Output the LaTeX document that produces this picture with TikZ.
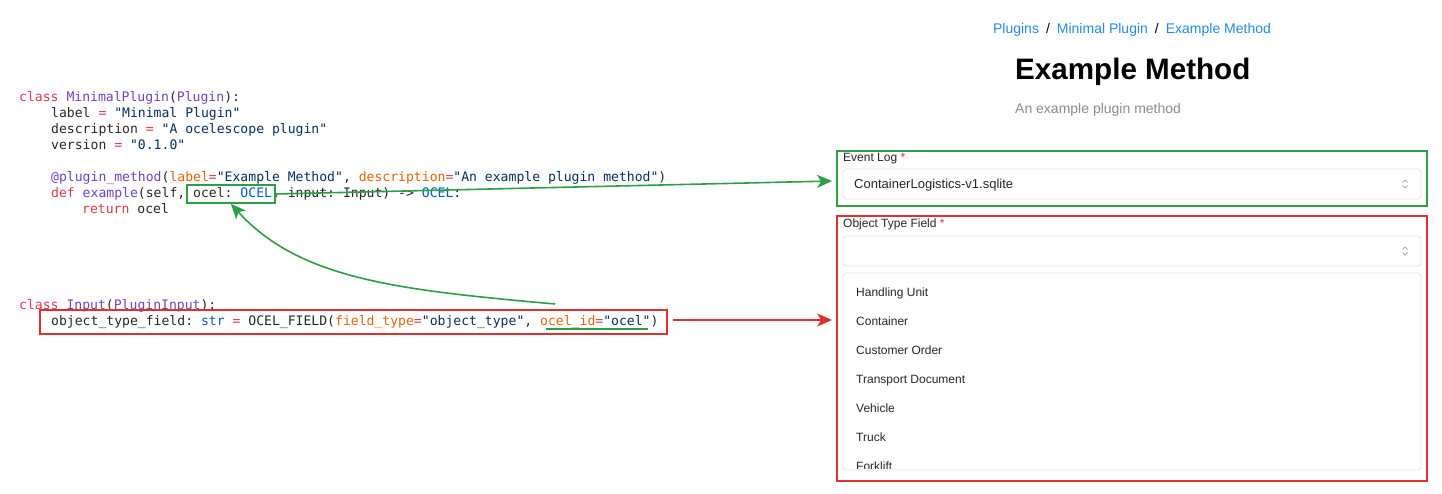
\documentclass[tikz,border=0pt]{standalone}
\usepackage{fontspec}
\setmainfont{Liberation Sans}
\setmonofont{DejaVu Sans Mono}
\usetikzlibrary{arrows.meta}
\definecolor{kwred}{HTML}{D73A49}
\definecolor{fnpurple}{HTML}{6F42C1}
\definecolor{strnavy}{HTML}{032F62}
\definecolor{parorange}{HTML}{E36209}
\definecolor{tyblue}{HTML}{005CC5}
\definecolor{boxgreen}{HTML}{2E9E45}
\definecolor{boxred}{HTML}{E03131}
\definecolor{linkblue}{HTML}{228BE6}
\definecolor{fieldgray}{HTML}{DEE2E6}
\newcommand{\kw}[1]{\textcolor{kwred}{#1}}
\newcommand{\fn}[1]{\textcolor{fnpurple}{#1}}
\newcommand{\st}[1]{\textcolor{strnavy}{#1}}
\newcommand{\pa}[1]{\textcolor{parorange}{#1}}
\newcommand{\ty}[1]{\textcolor{tyblue}{#1}}
\begin{document}
\begin{tikzpicture}[x=1pt,y=-1pt,
  code/.style={anchor=base west,inner sep=0pt,font=\ttfamily\fontsize{13.1}{16}\selectfont,text=black!85},
  ui/.style={anchor=base west,inner sep=0pt,font=\fontsize{12}{14}\selectfont,text=black!85},
  hilite/.style={draw=#1,line width=1.8pt},
  field/.style={draw=fieldgray,rounded corners=3pt,line width=0.8pt},
  chev/.style={draw=black!40,line width=0.7pt},
  link/.style={-{Stealth[length=15pt,width=13pt,inset=4pt]},line width=1.6pt,#1}]
\useasboundingbox (0,0) rectangle (1442,494);

% code
\node[code] (c1) at (19,102) {\kw{class} \fn{MinimalPlugin}(\fn{Plugin}):};
\node[code] (c2) at (51,118) {label \kw{=} \st{"Minimal Plugin"}};
\node[code] (c3) at (51,134) {description \kw{=} \st{"A ocelescope plugin"}};
\node[code] (c4) at (51,150) {version \kw{=} \st{"0.1.0"}};
\node[code] (c5) at (51,182) {\fn{@plugin\_method}(\pa{label}\kw{=}\st{"Example Method"}, \pa{description}\kw{=}\st{"An example plugin method"})};
\node[code] (c6) at (51,198) {\kw{def} \fn{example}(self, ocel: \ty{OCEL}, input: Input) -> \ty{OCEL}:};
\node[code] (c7) at (82,214) {\kw{return} ocel};
\node[code] (c8) at (19,309) {\kw{class} \fn{Input}(\fn{PluginInput}):};
\node[code] (c9) at (51,325) {object\_type\_field: \ty{str} \kw{=} OCEL\_FIELD(\pa{field\_type}\kw{=}\st{"object\_type"}, \pa{ocel\_id}\kw{=}\st{"ocel"})};

% highlights on the code
\node[hilite=boxgreen,minimum width=88,minimum height=18,inner sep=0pt] (ocelbox) at (231,194) {};
\node[hilite=boxred,minimum width=627,minimum height=24,inner sep=0pt] (fieldbox) at (353.5,322) {};
\draw[boxgreen,line width=1.8pt] (546,329) -- coordinate (ocelid) (648,329);

% web form
\node[anchor=base,font=\fontsize{14}{16}\selectfont] (crumb) at (1132,34)
  {\textcolor{linkblue}{Plugins}\enspace/\enspace\textcolor{linkblue}{Minimal Plugin}\enspace/\enspace\textcolor{linkblue}{Example Method}};
\node[anchor=base west,inner sep=0pt,font=\bfseries\fontsize{29.6}{33}\selectfont] (title) at (1015,80) {Example Method};
\node[anchor=base west,inner sep=0pt,font=\fontsize{14}{16}\selectfont,text=black!45] (subtitle) at (1015,114) {An example plugin method};

\node[hilite=boxgreen,minimum width=590,minimum height=55,inner sep=0pt] (logbox) at (1132,178.5) {};
\node[ui] (loglabel) at (843,162) {Event Log \textcolor{boxred}{*}};
\node[field,minimum width=578,minimum height=30,inner sep=0pt] (logfield) at (1132,184) {};
\node[ui,font=\fontsize{13}{15}\selectfont] (logvalue) at (854,189) {ContainerLogistics-v1.sqlite};
\coordinate (logchev) at (1405,184);
\draw[chev] ([shift={(-2.5,-1.5)}]logchev) -- ++(2.5,-2.5) -- ++(2.5,2.5)
            ([shift={(-2.5,1.5)}]logchev) -- ++(2.5,2.5) -- ++(2.5,-2.5);

\node[hilite=boxred,minimum width=590,minimum height=265,inner sep=0pt] (typebox) at (1132,348.5) {};
\node[ui] (typelabel) at (843,228) {Object Type Field \textcolor{boxred}{*}};
\node[field,minimum width=578,minimum height=30,inner sep=0pt] (typefield) at (1132,251) {};
\coordinate (typechev) at (1405,251);
\draw[chev] ([shift={(-2.5,-1.5)}]typechev) -- ++(2.5,-2.5) -- ++(2.5,2.5)
            ([shift={(-2.5,1.5)}]typechev) -- ++(2.5,2.5) -- ++(2.5,-2.5);
\node[field,minimum width=578,minimum height=197,inner sep=0pt] (typelist) at (1132,371.5) {};
\begin{scope}
\clip (843,274) rectangle (1421,468);
\foreach \item [count=\i] in {Handling Unit,Container,Customer Order,Transport Document,Vehicle,Truck,Forklift}
  \node[ui] (item\i) at (856,296.5+29*\i-29) {\item};
\end{scope}

% connectors
\draw[link=boxgreen] (ocelbox.east) -- ([xshift=-4pt,yshift=-2.5pt]logbox.west);
\draw[link=boxgreen] (555,304) coordinate (ocelidtop) .. controls (400,290) and (300,280) .. (ocelbox.south);
\draw[link=boxred] (fieldbox.east) ++(5,-2) coordinate (fieldout) -- ([xshift=-4pt]typebox.west |- fieldout);
\end{tikzpicture}
\end{document}
